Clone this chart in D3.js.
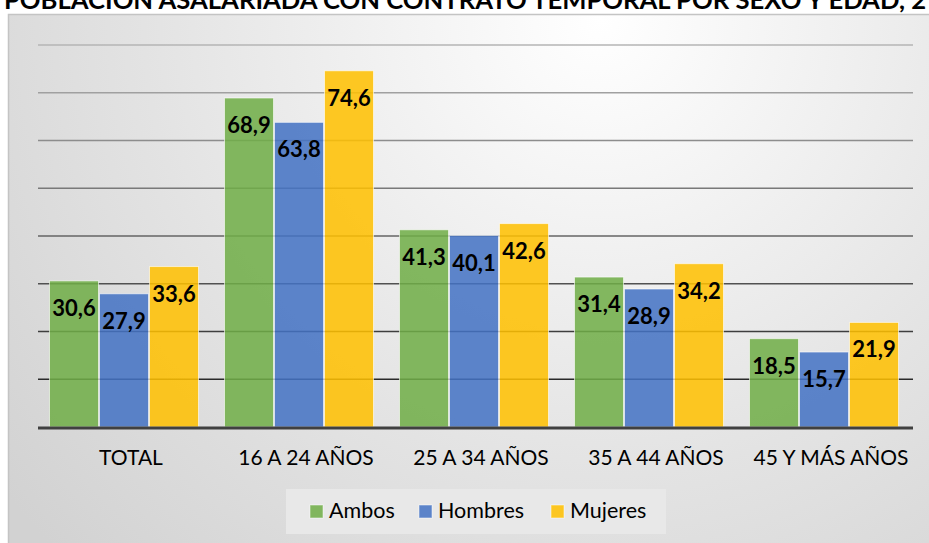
<!DOCTYPE html>
<html><head><meta charset="utf-8">
<script src="https://cdn.jsdelivr.net/npm/d3@7"></script>
<style>body{margin:0;background:#fff;overflow:hidden}svg{display:block}</style>
</head><body>
<svg id="c" width="929" height="543"></svg>
<script>
const categories = ["TOTAL", "16 A 24 AÑOS", "25 A 34 AÑOS", "35 A 44 AÑOS", "45 Y MÁS AÑOS"];
const seriesNames = ["Ambos", "Hombres", "Mujeres"];
const ambos = [30.6, 68.9, 41.3, 31.4, 18.5];
const hombres = [27.9, 63.8, 40.1, 28.9, 15.7];
const mujeres = [33.6, 74.6, 42.6, 34.2, 21.9];
const gridTicks = [10, 20, 30, 40, 50, 60, 70, 80];
const colors = ["#70AD47", "#4472C4", "#FFC000"];
const titleText = "POBLACIÓN ASALARIADA CON CONTRATO TEMPORAL POR SEXO Y EDAD, 2";

const values = [ambos, hombres, mujeres];
const svg = d3.select("#c");
const font = "Lato, 'Open Sans', 'Liberation Sans', sans-serif";

const defs = svg.append("defs");
const rg = defs.append("radialGradient").attr("id","bg").attr("gradientUnits","userSpaceOnUse")
  .attr("cx",600).attr("cy",20).attr("r",760);
rg.append("stop").attr("offset","0%").attr("stop-color","#ffffff");
rg.append("stop").attr("offset","60%").attr("stop-color","#e3e3e3");
rg.append("stop").attr("offset","100%").attr("stop-color","#d2d2d2");

// chart area
svg.append("rect").attr("x",8.5).attr("y",14.5).attr("width",940).attr("height",560)
  .attr("fill","url(#bg)").attr("stroke","#c4c4c4").attr("stroke-width",1.5);

// title (cropped at top, as in the reference)
svg.append("text").attr("x",4).attr("y",9).attr("textLength",922).attr("lengthAdjust","spacingAndGlyphs")
  .attr("font-family",font).attr("font-weight","bold").attr("font-size",24).attr("fill","#000")
  .text(titleText);

const y = d3.scaleLinear().domain([0,80]).range([427,45]);
const x0 = d3.scaleBand().domain(categories).range([36.5,911.5]).paddingInner(1/7).paddingOuter(1/14);
const x1 = d3.scaleBand().domain(seriesNames).range([0,x0.bandwidth()]);
const gridColor = d3.scaleLinear().domain([10,80]).range(["#2a2a2a","#b4b4b4"]);

// gridlines
svg.append("g").selectAll("line").data(gridTicks).join("line")
  .attr("x1",38).attr("x2",913).attr("y1",d=>y(d)).attr("y2",d=>y(d))
  .attr("stroke",d=>gridColor(d)).attr("stroke-width",1.6);

// bars
const groups = svg.append("g").selectAll("g").data(categories).join("g")
  .attr("transform",d=>`translate(${x0(d)},0)`);
groups.each(function(cat,i){
  const g = d3.select(this);
  seriesNames.forEach((s,j)=>{
    const v = values[j][i];
    g.append("rect").attr("x",x1(s)+0.5).attr("width",x1.bandwidth()-1)
      .attr("y",y(v)).attr("height",y(0)-y(v))
      .attr("fill",colors[j]).attr("fill-opacity",0.86)
      .attr("stroke","#ffffff").attr("stroke-opacity",0.6).attr("stroke-width",1);
    g.append("text").attr("x",x1(s)+x1.bandwidth()/2).attr("y",y(v)+35)
      .attr("text-anchor","middle").attr("font-family",font).attr("font-weight","bold")
      .attr("font-size",22).attr("fill","#000")
      .text(d3.format(".1f")(v).replace(".",","));
  });
});

// baseline axis
svg.append("line").attr("x1",38).attr("x2",913).attr("y1",y(0)+1).attr("y2",y(0)+1)
  .attr("stroke","#404040").attr("stroke-width",3);

// category labels
const xAxis = d3.axisBottom(x0).tickSize(0).tickPadding(0);
const ax = svg.append("g").attr("transform",`translate(7,${y(0)})`).call(xAxis);
ax.select(".domain").remove();
ax.selectAll("text").attr("y",38).attr("dy",0).attr("font-family",font).attr("font-size",21).attr("fill","#000");

// legend
const lg = svg.append("g");
lg.append("rect").attr("x",286).attr("y",489).attr("width",380).attr("height",45).attr("fill","#e8e8e8");
const legX = [310, 419, 551];
seriesNames.forEach((s,j)=>{
  lg.append("rect").attr("x",legX[j]).attr("y",505).attr("width",13).attr("height",13)
    .attr("fill",colors[j]).attr("fill-opacity",0.86).attr("stroke","#fff").attr("stroke-opacity",0.5);
  lg.append("text").attr("x",legX[j]+19).attr("y",518).attr("font-family",font).attr("font-size",21.5)
    .attr("fill","#000").text(s);
});
</script>
</body></html>
